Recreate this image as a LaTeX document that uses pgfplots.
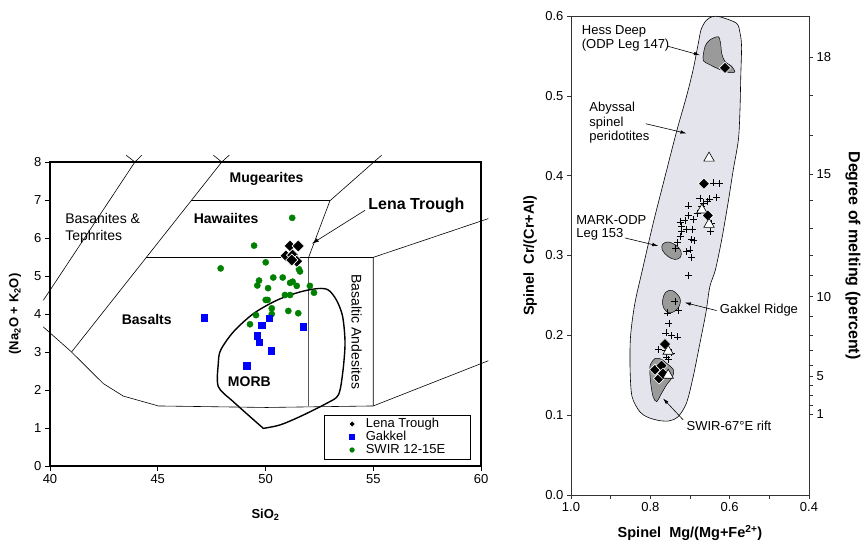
\documentclass[border=0pt]{standalone}
\usepackage{fontspec}
\setmainfont{Liberation Sans}
\usepackage{pgfplots}
\pgfplotsset{compat=1.18}
\usetikzlibrary{arrows.meta}

\definecolor{fieldgray}{HTML}{E4E4EC}
\definecolor{patchgray}{HTML}{9A9A9A}
\definecolor{swirgreen}{HTML}{008000}
\definecolor{gakblue}{HTML}{0000FF}
\newcommand*{\fs}[1]{\fontsize{#1}{#1}\selectfont}

\begin{document}
\begin{tikzpicture}
\useasboundingbox (0,0) rectangle (862pt,545pt);

% ---------- left: total alkali vs silica ----------
\begin{axis}[
  at={(50pt,79pt)}, anchor=south west, scale only axis,
  width=431pt, height=304pt,
  xmin=40, xmax=60, ymin=0, ymax=8,
  xtick={40,45,...,60}, ytick={0,1,...,8},
  tick pos=left, tick align=outside, major tick length=5pt,
  axis line style={line width=1.6pt},
  tick style={line width=0.6pt, black},
  ticklabel style={font=\fs{13}, /pgf/number format/assume math mode=true},
  xlabel={\bfseries SiO\textsubscript{2}},
  ylabel={\bfseries (Na\textsubscript{2}O + K\textsubscript{2}O)},
  xlabel style={font=\fs{13}, at={(axis description cs:0.5,-0.161)}, anchor=center},
  ylabel style={font=\fs{13}, at={(axis description cs:-0.081,0.5)}, anchor=center},
  clip=false, reverse legend,
  legend style={at={(0.977,0.022)}, anchor=south east, draw=black, line width=0.6pt,
    fill=white, font=\fs{13}, inner xsep=25pt, inner ysep=2.5pt, row sep=0pt,
    nodes={inner sep=0.5pt, text height=9pt, text depth=3pt},
    /tikz/every odd column/.append style={column sep=10pt}},
  legend cell align=left,
  legend image post style={mark size=2.3pt},
]
% field boundaries
\addplot[forget plot, black, line width=0.6pt] coordinates {(39.69,4.36) (43.94,8.0)};
\addplot[forget plot, black, line width=0.6pt] coordinates {(43.53,8.18) (43.94,8.0) (44.26,8.18)};
\addplot[forget plot, black, line width=0.6pt] coordinates {(41.0,3.0) (47.97,8.0)};
\addplot[forget plot, black, line width=0.6pt] coordinates {(47.58,8.18) (47.97,8.0) (48.32,8.18)};
\addplot[forget plot, black, line width=0.6pt] coordinates {(39.69,3.66) (41.0,3.0) (42.47,2.17) (43.40,1.84) (45.03,1.58) (50.05,1.54) (55.0,1.58) (60.34,2.77)};
\addplot[forget plot, black, line width=0.6pt] coordinates {(44.45,5.49) (55.0,5.49)};
\addplot[forget plot, black, line width=0.6pt] coordinates {(46.55,6.98) (52.99,6.98)};
\addplot[forget plot, black, line width=0.6pt] coordinates {(52.0,1.58) (52.0,5.49) (52.99,6.98) (55.39,8.18)};
\addplot[forget plot, black, line width=0.6pt] coordinates {(55.0,1.58) (55.0,5.49) (60.34,6.51)};
% MORB field
\addplot[forget plot, black, line width=1.4pt, smooth, tension=0.5] coordinates {
  (49.90,0.99) (48.51,1.69) (47.81,2.09) (47.81,2.70) (47.92,3.05) (48.51,3.53)
  (49.44,4.01) (50.52,4.36) (51.60,4.58) (52.45,4.67) (52.92,4.63) (53.30,4.36)
  (53.58,3.93) (53.69,3.23) (53.58,2.44) (53.38,1.87) (52.84,1.65) (51.60,1.30)
  (50.67,1.08) (49.90,0.99)};
% data
\addplot[only marks, mark=*, swirgreen, mark size=3.1pt] coordinates {
  (51.24,6.53) (49.47,5.80) (47.92,5.20) (50.01,5.36) (51.55,5.18) (51.60,5.12)
  (49.70,4.88) (49.62,4.75) (50.36,4.96) (50.80,4.96) (51.14,4.82) (51.26,4.85)
  (51.45,4.74) (50.12,4.68) (52.06,4.74) (52.25,4.56) (50.90,4.50) (51.14,4.50)
  (50.01,4.37) (50.10,4.37) (50.29,4.15) (50.29,4.00) (51.06,4.08) (51.52,4.02)
  (49.56,3.97) (49.28,3.73)};
\addlegendentry{SWIR 12-15E}
\addplot[only marks, mark=square*, gakblue, mark size=3.2pt] coordinates {
  (47.15,3.90) (50.16,3.89) (49.82,3.71) (51.76,3.67) (49.62,3.43) (49.71,3.26)
  (50.27,3.03) (49.13,2.64)};
\addlegendentry{Gakkel}
\addplot[only marks, mark=square*, mark size=4.3pt,
  mark options={rotate=45, fill=black, draw=white, line width=0.7pt}] coordinates {
  (51.14,5.79) (51.52,5.79) (50.95,5.53) (51.26,5.55) (51.45,5.39) (51.22,5.42)};
\addlegendentry{Lena Trough}
% labels
\node[font=\fs{14}\bfseries] at (axis cs:50.05,7.56) {Mugearites};
\node[font=\fs{14}\bfseries] at (axis cs:48.17,6.51) {Hawaiites};
\node[font=\fs{14}, anchor=west, inner sep=0pt] at (axis cs:40.7,6.51) {Basanites \&};
\node[font=\fs{14}, anchor=west, inner sep=0pt] at (axis cs:40.7,6.03) {Tephrites};
\node[font=\fs{14}\bfseries] at (axis cs:44.49,3.86) {Basalts};
\node[font=\fs{14}\bfseries] at (axis cs:49.25,2.23) {MORB};
\node[font=\fs{14}, rotate=-90] at (axis cs:54.23,3.53) {Basaltic Andesites};
\node[font=\fs{16}\bfseries] at (axis cs:57.0,6.86) {Lena Trough};
\draw[line width=0.6pt, -{Latex[length=7pt,width=4pt]}] (axis cs:54.62,6.73) -- (axis cs:52.15,5.85);
\end{axis}

% ---------- right: spinel Cr# vs Mg# ----------
\begin{axis}[
  at={(571pt,50pt)}, anchor=south west, scale only axis,
  width=238pt, height=479pt,
  x dir=reverse, xmin=0.4, xmax=1.0, ymin=0, ymax=0.6,
  xtick={0.4,0.6,0.8,1.0}, minor xtick={0.5,0.7,0.9},
  ytick={0,0.1,...,0.6},
  xtick pos=bottom, ytick pos=left, tick align=outside,
  major tick length=4pt, minor tick length=4pt,
  axis line style={line width=0.8pt, black!80},
  tick style={line width=0.6pt, black!80},
  ticklabel style={font=\fs{13}, /pgf/number format/assume math mode=true,
    /pgf/number format/fixed, /pgf/number format/fixed zerofill, /pgf/number format/precision=1},
  xlabel={\bfseries Spinel\ \ Mg/(Mg+Fe\textsuperscript{2+})},
  ylabel={\bfseries Spinel\ \ Cr/(Cr+Al)},
  xlabel style={font=\fs{14.5}, at={(axis description cs:0.5,-0.079)}, anchor=center},
  ylabel style={font=\fs{14.5}, at={(axis description cs:-0.172,0.5)}, anchor=center},
]
% abyssal peridotite envelope
\addplot[fill=fieldgray, draw=black, line width=0.6pt, smooth cycle, tension=0.5] coordinates {
  (0.625,0.599) (0.583,0.591) (0.574,0.579) (0.570,0.562) (0.572,0.524) (0.574,0.482)
  (0.578,0.445) (0.591,0.407) (0.604,0.366) (0.620,0.320) (0.636,0.282) (0.650,0.261)
  (0.660,0.228) (0.675,0.190) (0.692,0.148) (0.709,0.115) (0.730,0.098) (0.751,0.093)
  (0.775,0.093) (0.805,0.097) (0.826,0.104) (0.846,0.123) (0.851,0.157) (0.850,0.198)
  (0.839,0.240) (0.820,0.282) (0.793,0.340) (0.767,0.391) (0.734,0.455) (0.709,0.499)
  (0.692,0.533) (0.679,0.566) (0.672,0.583) (0.660,0.594) (0.645,0.599)};
% Hess Deep
\addplot[fill=patchgray, draw=black, line width=0.5pt, smooth cycle, tension=0.5] coordinates {
  (0.667,0.545) (0.662,0.562) (0.650,0.570) (0.629,0.574) (0.623,0.566) (0.620,0.553)
  (0.612,0.543) (0.595,0.537) (0.587,0.530) (0.599,0.529) (0.625,0.533) (0.650,0.539)};
% MARK-ODP Leg 153
\addplot[fill=patchgray, draw=black, line width=0.5pt, smooth cycle, tension=0.6] coordinates {
  (0.724,0.298) (0.738,0.295) (0.756,0.299) (0.770,0.307) (0.769,0.314) (0.755,0.317)
  (0.736,0.313) (0.723,0.306)};
% Gakkel Ridge
\addplot[fill=patchgray, draw=black, line width=0.5pt, smooth cycle, tension=0.6] coordinates {
  (0.744,0.256) (0.725,0.246) (0.730,0.234) (0.751,0.228) (0.766,0.234) (0.769,0.244)
  (0.761,0.254)};
% SWIR 67E
\addplot[fill=patchgray, draw=black, line width=0.5pt, smooth cycle, tension=0.5] coordinates {
  (0.788,0.171) (0.801,0.161) (0.799,0.140) (0.793,0.123) (0.784,0.117) (0.772,0.127)
  (0.759,0.138) (0.744,0.148) (0.742,0.157) (0.759,0.165) (0.772,0.170)};
% crosses
\addplot[only marks, mark=+, mark size=3.5pt, black, line width=0.6pt] coordinates {
  (0.642,0.391) (0.625,0.390) (0.675,0.372) (0.652,0.371) (0.633,0.373) (0.667,0.366)
  (0.657,0.368) (0.705,0.362) (0.671,0.361) (0.682,0.353) (0.705,0.350) (0.692,0.345)
  (0.713,0.344) (0.725,0.342) (0.721,0.336) (0.709,0.333) (0.693,0.333) (0.721,0.330)
  (0.648,0.330) (0.725,0.324) (0.696,0.320) (0.690,0.319) (0.731,0.316) (0.700,0.307)
  (0.710,0.305) (0.696,0.298) (0.736,0.309) (0.705,0.275) (0.738,0.242) (0.757,0.228)
  (0.730,0.231) (0.753,0.215) (0.761,0.203) (0.746,0.200) (0.731,0.198) (0.780,0.182)
  (0.763,0.181) (0.746,0.178) (0.759,0.173) (0.755,0.170) (0.647,0.340)};
% diamonds
\addplot[only marks, mark=square*, mark size=4pt,
  mark options={rotate=45, fill=black, draw=white, line width=0.6pt}] coordinates {
  (0.612,0.535) (0.665,0.390) (0.655,0.350) (0.763,0.189) (0.788,0.157) (0.772,0.162)
  (0.778,0.146) (0.768,0.152)};
% open triangles
\addplot[only marks, mark=triangle*, mark size=6pt,
  mark options={fill=white, draw=black, line width=0.6pt}] coordinates {
  (0.652,0.422) (0.670,0.357) (0.652,0.339) (0.755,0.180) (0.755,0.150)};
% annotations
\node[font=\fs{13}, anchor=west, inner sep=0pt] at (axis cs:0.973,0.581) {Hess Deep};
\node[font=\fs{13}, anchor=west, inner sep=0pt] at (axis cs:0.973,0.564) {(ODP Leg 147)};
\draw[line width=0.6pt, -{Latex[length=6pt,width=3.5pt]}] (axis cs:0.755,0.562) -- (axis cs:0.675,0.551);
\node[font=\fs{13}, anchor=west, inner sep=0pt] at (axis cs:0.954,0.485) {Abyssal};
\node[font=\fs{13}, anchor=west, inner sep=0pt] at (axis cs:0.954,0.466) {spinel};
\node[font=\fs{13}, anchor=west, inner sep=0pt] at (axis cs:0.954,0.448) {peridotites};
\draw[line width=0.6pt, -{Latex[length=6pt,width=3.5pt]}] (axis cs:0.811,0.465) -- (axis cs:0.709,0.453);
\node[font=\fs{13}, anchor=west, inner sep=0pt] at (axis cs:0.987,0.345) {MARK-ODP};
\node[font=\fs{13}, anchor=west, inner sep=0pt] at (axis cs:0.987,0.326) {Leg 153};
\draw[line width=0.6pt, -{Latex[length=6pt,width=3.5pt]}] (axis cs:0.864,0.322) -- (axis cs:0.780,0.312);
\node[font=\fs{13}, anchor=west, inner sep=0pt] at (axis cs:0.625,0.232) {Gakkel Ridge};
\draw[line width=0.6pt, -{Latex[length=6pt,width=3.5pt]}] (axis cs:0.633,0.231) -- (axis cs:0.713,0.241);
\node[font=\fs{13}, anchor=west, inner sep=0pt] at (axis cs:0.709,0.0865) {SWIR-67°E rift};
\draw[line width=0.6pt, -{Latex[length=6pt,width=3.5pt]}] (axis cs:0.717,0.094) -- (axis cs:0.768,0.121);
\end{axis}

% degree of melting scale
\begin{axis}[
  at={(571pt,50pt)}, anchor=south west, scale only axis,
  width=238pt, height=479pt,
  xmin=0.4, xmax=1.0, ymin=0, ymax=0.6,
  axis x line=none, axis y line*=right,
  tick align=outside, major tick length=4pt,
  axis line style={line width=0.8pt, black!80},
  tick style={line width=0.6pt, black!80},
  ytick={0.1015,0.1128,0.1253,0.1378,0.1491,0.1629,0.1817,0.2005,0.2234,0.2485,
         0.2757,0.3008,0.3337,0.3697,0.4023,0.4511,0.5004,0.5485},
  yticklabels={1,,,,5,,,,,10,,,,,15,,,18},
  yticklabel style={font=\fs{13}},
  ylabel={\bfseries Degree of melting (percent)},
  ylabel style={font=\fs{16}, at={(axis description cs:1.185,0.5)}, anchor=center, rotate=180},
]
\end{axis}
\end{tikzpicture}
\end{document}
